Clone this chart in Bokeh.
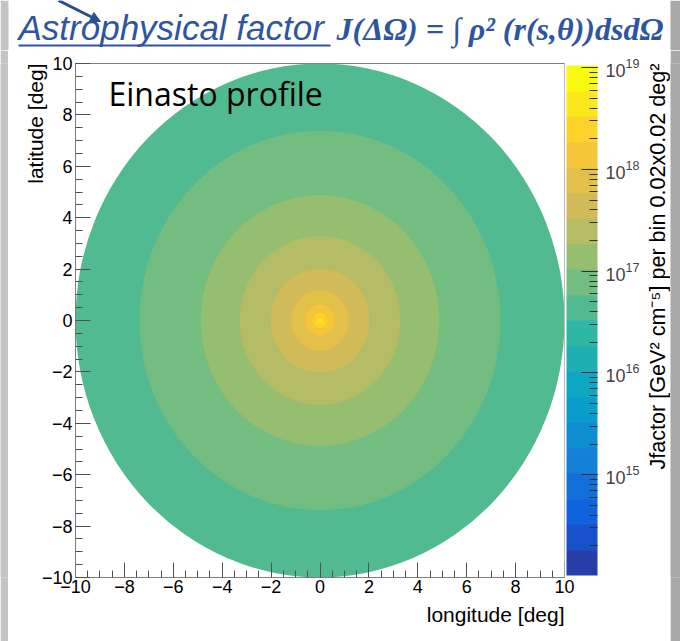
import numpy as np
from bokeh.plotting import figure
from bokeh.layouts import column, row
from bokeh.models import (ColumnDataSource, LogColorMapper, ColorBar, LogTicker, LogTickFormatter,
                          SingleIntervalTicker, Label, Arrow, NormalHead, BoxAnnotation,
                          CustomJSTickFormatter, Title)
from bokeh.embed import file_html
from bokeh.resources import INLINE

# ---- data ----
ring_radius = [10.0, 7.38, 4.88, 3.28, 2.02, 1.18, 0.61, 0.29, 0.10]          # deg
ring_jfactor = [4.2e16, 7.5e16, 1.33e17, 2.37e17, 4.2e17, 7.5e17, 1.33e18, 2.37e18, 4.2e18]
jfactor_low = 1.02e14
jfactor_high = 1.05e19
n_contours = 20

# ---- ROOT kBird palette (style) ----
stops = [0.0, 0.125, 0.25, 0.375, 0.5, 0.625, 0.75, 0.875, 1.0]
red = [0.2082, 0.0592, 0.0780, 0.0232, 0.1802, 0.5301, 0.8186, 0.9956, 0.9764]
green = [0.1664, 0.3599, 0.5041, 0.6419, 0.7178, 0.7492, 0.7328, 0.7862, 0.9832]
blue = [0.5293, 0.8684, 0.8385, 0.7914, 0.6425, 0.4662, 0.3499, 0.1968, 0.0539]
fr = np.linspace(0, 1, 255)
full = ["#%02x%02x%02x" % (int(round(255 * np.interp(f, stops, red))),
                           int(round(255 * np.interp(f, stops, green))),
                           int(round(255 * np.interp(f, stops, blue)))) for f in fr]
palette = [full[int((k + 0.99) * 255 / n_contours)] for k in range(n_contours)]
mapper = LogColorMapper(palette=palette, low=jfactor_low, high=jfactor_high)

TITLE_COL = "#2E55A0"
ARROW_COL = "#2B4F8F"
STRIP_L = "#c4c4c4"
STRIP_R = "#a8a8a8"
TOP_H = 50
LOW_H = 641 - TOP_H
L_W = 8
M_W = 636
R2_W = 10
R1_W = 680 - L_W - M_W - R2_W
R_X0 = L_W + M_W                 # canvas x where the colour-bar title strip begins
FRAME_T, FRAME_B = 63, 577       # canvas y of the plot frame


def blank(width, height, xr, yr, bg="white", top_b=0, bottom_b=0):
    f = figure(width=width, height=height, x_range=xr, y_range=yr, output_backend="svg",
               toolbar_location=None, x_axis_location=None, y_axis_location=None,
               min_border=0, min_border_left=0, min_border_right=0,
               min_border_top=top_b, min_border_bottom=bottom_b)
    f.grid.visible = False
    f.outline_line_color = None
    f.background_fill_color = bg
    f.border_fill_color = bg
    return f


# ---- top strip: slide title (data coords = canvas pixels) ----
top = blank(680, TOP_H, (0, 680), (TOP_H, 0))
top.add_layout(BoxAnnotation(left=0, right=L_W, fill_color=STRIP_L, fill_alpha=1, line_color=None))
top.add_layout(BoxAnnotation(left=680 - R2_W, right=680, fill_color=STRIP_R, fill_alpha=1,
                             line_color=None))
top.add_layout(Label(x=18, y=27, text="Astrophysical factor", text_font="Liberation Sans",
                     text_font_style="italic", text_font_size="35px", text_color=TITLE_COL,
                     text_baseline="middle"))
top.add_layout(Label(x=336, y=28, text="J(\u0394\u03a9) = \u222b \u03c1\u00b2 (r(s,\u03b8))dsd\u03a9",
                     text_font="Liberation Serif", text_font_style="bold italic",
                     text_font_size="32px", text_color=TITLE_COL, text_baseline="middle"))
top.add_layout(Arrow(end=None, x_start=18, y_start=45, x_end=330, y_end=45,
                     line_color=TITLE_COL, line_width=2))
top.add_layout(Arrow(end=NormalHead(size=10, fill_color=ARROW_COL, line_color=ARROW_COL),
                     x_start=58, y_start=0, x_end=100, y_end=21,
                     line_color=ARROW_COL, line_width=3))

# ---- left grey strip ----
left = blank(L_W, LOW_H, (0, 1), (0, 1), bg=STRIP_L,
             top_b=FRAME_T - TOP_H, bottom_b=641 - FRAME_B)

# ---- main plot ----
p = figure(width=M_W, height=LOW_H, x_range=(-10, 10), y_range=(-10, 10),
           output_backend="svg", toolbar_location=None,
           min_border_left=75 - L_W, min_border_right=L_W + M_W - 565,
           min_border_top=FRAME_T - TOP_H, min_border_bottom=641 - FRAME_B)
p.grid.visible = False
p.background_fill_color = "white"
p.border_fill_color = "white"
p.outline_line_color = "#808080"

src = ColumnDataSource(dict(x=[0.0] * len(ring_radius), y=[0.0] * len(ring_radius),
                            d=[2 * r for r in ring_radius], j=ring_jfactor))
p.ellipse("x", "y", width="d", height="d", source=src,
          fill_color={"field": "j", "transform": mapper}, line_color=None)

minus_fmt = CustomJSTickFormatter(
    code="return tick < 0 ? String.fromCharCode(8722) + Math.abs(tick) : String(tick);")
for ax in (p.xaxis[0], p.yaxis[0]):
    ax.ticker = SingleIntervalTicker(interval=2, num_minor_ticks=4)
    ax.formatter = minus_fmt
    ax.major_tick_in = 15
    ax.major_tick_out = 0
    ax.minor_tick_in = 7
    ax.minor_tick_out = 0
    ax.axis_line_color = "#808080"
    ax.major_tick_line_color = "#505050"
    ax.minor_tick_line_color = "#505050"
    ax.major_label_text_font = "Liberation Sans"
    ax.major_label_text_font_size = "18px"
    ax.major_label_text_color = "black"
p.xaxis.major_label_standoff = 2
p.yaxis.major_label_standoff = 3

cb = ColorBar(color_mapper=mapper, ticker=LogTicker(desired_num_ticks=5, num_minor_ticks=10),
              formatter=LogTickFormatter(), width=31, padding=2, margin=0,
              major_tick_in=16, major_tick_out=0, minor_tick_in=8, minor_tick_out=0,
              major_tick_line_color="#303030", minor_tick_line_color="#303030",
              major_label_text_font="Liberation Sans", major_label_text_font_size="18px",
              label_standoff=8, bar_line_color=None)
p.add_layout(cb, "right")

p.add_layout(Title(text="longitude [deg]", align="right", text_font="Liberation Sans",
                   text_font_size="21px", text_font_style="normal", text_color="black",
                   standoff=10), "below")
p.add_layout(Title(text="latitude [deg]", align="right", text_font="Liberation Sans",
                   text_font_size="21px", text_font_style="normal", text_color="black",
                   standoff=-17), "left")

p.add_layout(Label(x=108 - 75, y=FRAME_B - 93, x_units="screen", y_units="screen",
                   text="Einasto profile", text_font="Open Sans", text_font_size="32px",
                   text_color="black", text_baseline="middle"))

# ---- colour-bar title strip (data coords = canvas pixels) ----
rt = blank(R1_W, LOW_H, (R_X0, R_X0 + R1_W), (FRAME_B, FRAME_T),
           top_b=FRAME_T - TOP_H, bottom_b=641 - FRAME_B)
rt.add_layout(Label(x=657, y=FRAME_T, angle=np.pi / 2,
                    text="Jfactor [GeV\u00b2 cm\u207b\u2075] per bin 0.02x0.02 deg\u00b2",
                    text_font="Liberation Sans", text_font_size="21.6px", text_color="black",
                    text_align="right", text_baseline="middle"))

# ---- right grey strip ----
rg = blank(R2_W, LOW_H, (0, 1), (0, 1), bg=STRIP_R,
           top_b=FRAME_T - TOP_H, bottom_b=641 - FRAME_B)

layout = column(top, row(left, p, rt, rg, spacing=0), spacing=0)
open("out.html", "w").write(file_html(layout, INLINE))
